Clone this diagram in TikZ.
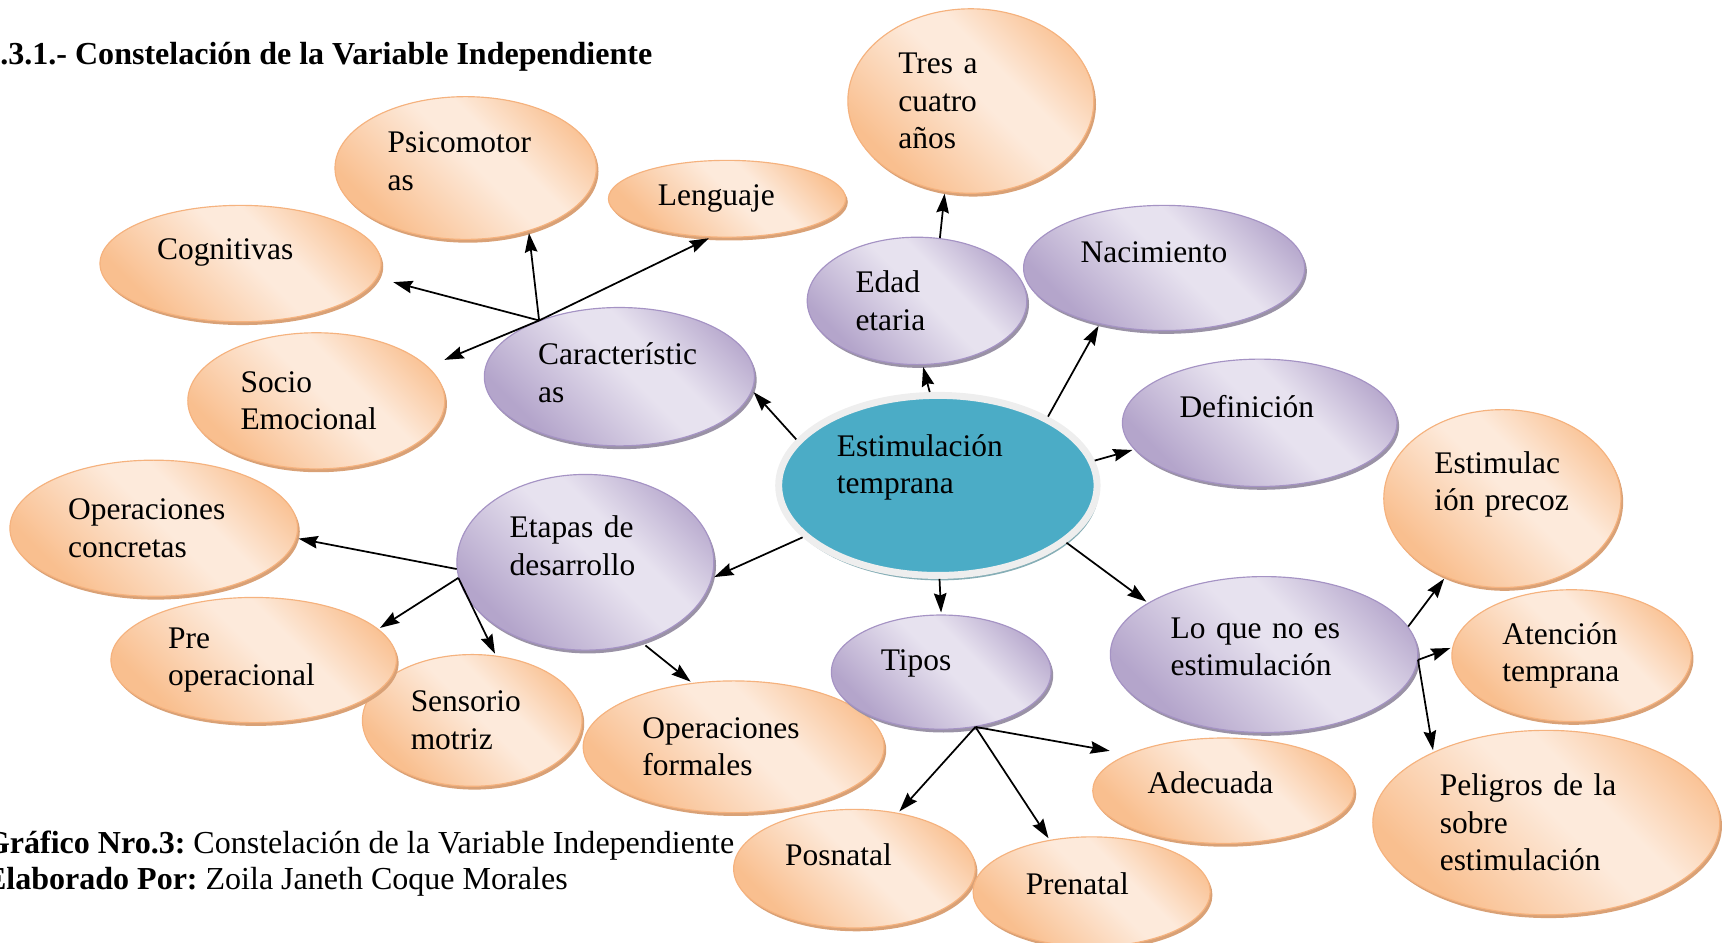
\documentclass[tikz,border=0pt]{standalone}
\usepackage{fontspec}
\setmainfont{Liberation Serif}
\usetikzlibrary{shapes, shadows, arrows.meta}
\frenchspacing

\definecolor{peachdark}{HTML}{F9BF8F}
\definecolor{peachlight}{HTML}{FDEADB}
\definecolor{peachline}{HTML}{F5B27E}
\definecolor{peachshadow}{HTML}{D9A176}
\definecolor{lilacdark}{HTML}{B4A5CB}
\definecolor{lilaclight}{HTML}{E7E2EF}
\definecolor{lilacline}{HTML}{A593C4}
\definecolor{lilacshadow}{HTML}{9A92A6}
\definecolor{tealfill}{HTML}{4BACC6}
\definecolor{tealring}{HTML}{EEEEEE}
\definecolor{tealshadow}{HTML}{86AEB6}

\pgfdeclarehorizontalshading{peachband}{100bp}{color(0bp)=(peachdark); color(27bp)=(peachdark); color(52bp)=(peachlight); color(60bp)=(peachlight); color(78bp)=(peachdark); color(100bp)=(peachdark)}
\pgfdeclarehorizontalshading{lilacband}{100bp}{color(0bp)=(lilacdark); color(27bp)=(lilacdark); color(52bp)=(lilaclight); color(60bp)=(lilaclight); color(78bp)=(lilacdark); color(100bp)=(lilacdark)}

\begin{document}
\begin{tikzpicture}[x=0.02cm, y=-0.02cm, >={Stealth[length=10pt,width=6.5pt,inset=1.2pt]}, shorten >=1pt,
    txt/.style={font=\fontsize{16.3}{19.4}\selectfont},
    headtxt/.style={font=\fontsize{16.6}{19.4}\selectfont, anchor=base west, inner sep=0pt},
    textup/.style={execute at end node={\endgraf\vspace*{#1}}},
    bubble/.style 2 args={ellipse, minimum width=#1, minimum height=#2, inner sep=0pt, align=left, txt, line width=0.6pt},
    peach/.style 2 args={bubble={#1}{#2}, draw=peachline, shade, shading=peachband, shading angle=45,
        drop shadow={shadow xshift=0.04cm, shadow yshift=-0.06cm, fill=peachshadow, opacity=1}},
    lilac/.style 2 args={bubble={#1}{#2}, draw=lilacline, shade, shading=lilacband, shading angle=45,
        drop shadow={shadow xshift=0.04cm, shadow yshift=-0.06cm, fill=lilacshadow, opacity=1}},
    core/.style 2 args={bubble={#1}{#2}, fill=tealfill, draw=tealring, line width=3.6pt,
        drop shadow={shadow xshift=0.03cm, shadow yshift=-0.09cm, fill=tealshadow, opacity=1}},
    link/.style={->, line width=0.9pt}]
    \useasboundingbox (0,0) rectangle (1568,858);

    % headings
    \node (title) [headtxt, font=\fontsize{16.6}{19.4}\selectfont\bfseries] at (0,59) {.3.1.- Constelación de la Variable Independiente};
    \node (capGraph) [headtxt] at (-14,777) {\textbf{Gráfico Nro.3:} Constelación de la Variable Independiente};
    \node (capAuthor) [headtxt] at (-14,810) {\textbf{Elaborado Por:} Zoila Janeth Coque Morales};

    % centre
    \node (estim) [core={5.80cm}{3.28cm}, text width=3.68cm, textup=0.66cm] at (854,442) {Estimulación\\temprana};

    % upper branches
    \node (tres) [peach={4.48cm}{3.36cm}, text width=2.64cm] at (884,92) {Tres a\\cuatro\\años};
    \node (edad) [lilac={4.00cm}{2.32cm}, text width=2.24cm] at (835,274) {Edad\\etaria};
    \node (nacim) [lilac={5.12cm}{2.28cm}, text width=3.04cm, textup=0.56cm] at (1060,244) {Nacimiento};
    \node (defin) [lilac={5.00cm}{2.32cm}, text width=2.92cm, textup=0.6cm] at (1147,385) {Definición};

    % caracteristicas
    \node (psico) [peach={4.76cm}{2.60cm}, text width=2.84cm, textup=0.24cm] at (424,153) {Psicomotor\\as};
    \node (lengu) [peach={4.32cm}{1.40cm}, text width=2.52cm] at (662,181) {Lenguaje};
    \node (cogn) [peach={5.12cm}{2.12cm}, text width=3.04cm, textup=0.4cm] at (219,240) {Cognitivas};
    \node (socio) [peach={4.68cm}{2.48cm}, text width=2.76cm] at (288,365) {Socio\\Emocional};
    \node (carac) [lilac={4.92cm}{2.52cm}, text width=2.96cm, textup=0.14cm] at (564,343) {Característic\\as};

    % etapas
    \node (opconc) [peach={5.24cm}{2.48cm}, text width=3.12cm] at (140,481) {Operaciones\\concretas};
    \node (sensor) [peach={4.00cm}{2.40cm}, text width=2.24cm] at (430,656) {Sensorio\\motriz};
    \node (preop) [peach={5.20cm}{2.28cm}, text width=3.12cm] at (231,601) {Pre\\operacional};
    \node (opform) [peach={5.48cm}{2.40cm}, text width=3.32cm] at (668,680) {Operaciones\\formales};
    \node (etapas) [lilac={4.68cm}{3.20cm}, text width=2.76cm, textup=0.6cm] at (533,512) {Etapas de\\desarrollo};

    % tipos
    \node (tipos) [lilac={4.00cm}{2.08cm}, text width=2.20cm, textup=0.32cm] at (857,612) {Tipos};
    \node (adec) [peach={4.76cm}{1.92cm}, text width=2.76cm, textup=0.28cm] at (1114,720) {Adecuada};
    \node (posn) [peach={4.40cm}{2.16cm}, text width=2.52cm, textup=0.52cm] at (778,791) {Posnatal};
    \node (pren) [peach={4.32cm}{2.00cm}, text width=2.40cm, textup=0.28cm] at (994,812) {Prenatal};

    % lo que no es
    \node (noes) [lilac={5.60cm}{2.84cm}, text width=3.40cm, textup=0.28cm] at (1151,596) {Lo que no es\\estimulación};
    \node (precoz) [peach={4.32cm}{3.24cm}, text width=2.48cm, textup=0.52cm] at (1368,454) {Estimulac\\ión precoz};
    \node (aten) [peach={4.36cm}{2.40cm}, text width=2.52cm] at (1431,597) {Atención\\temprana};
    \node (pelig) [peach={6.32cm}{3.36cm}, text width=3.88cm] at (1408,749) {Peligros de la\\sobre\\estimulación};

    % hubs where the arrows fan out
    \coordinate (caracHub) at (carac.145);
    \coordinate (etapasHubA) at (etapas.183);
    \coordinate (etapasHubB) at (etapas.187);
    \coordinate (tiposHub) at (tipos.-58);
    \coordinate (noesHub) at (noes.-2);

    % Create edge connections
    \draw[link] (estim.162) -- (carac.-6);
    \draw[link] (estim.95) -- (edad.-85);
    \draw[link] (edad.70) -- (tres.-106);
    \draw[link] (estim.32) -- (nacim.-139);
    \draw[link] (estim.9) -- (defin.-168);
    \draw[link] (estim.-24) -- (noes.156);
    \draw[link] (estim.-89) -- (tipos.north);
    \draw[link] (estim.-159) -- (etapas.-7);

    \draw[link, shorten >=0.3cm] (caracHub) -- (cogn.-6);
    \draw[link] (caracHub) -- (psico.-45);
    \draw[link] (caracHub) -- (lengu.-113);
    \draw[link, shorten >=0.32cm] (caracHub) -- (socio.17);

    \draw[link] (etapasHubA) -- (opconc.-4);
    \draw[link] (etapasHubB) -- (preop.14);
    \draw[link] (etapasHubB) -- (sensor.70);
    \draw[link, shorten <=0.1cm] (etapas.-55) -- (opform.123);

    \draw[link, shorten >=0.34cm] (tiposHub) -- (adec.159);
    \draw[link] (tiposHub) -- (posn.52);
    \draw[link] (tiposHub) -- (pren.129);

    \draw[link] (noes.11) -- (precoz.-126);
    \draw[link] (noesHub) -- (aten.176);
    \draw[link] (noesHub) -- (pelig.148);
\end{tikzpicture}
\end{document}
